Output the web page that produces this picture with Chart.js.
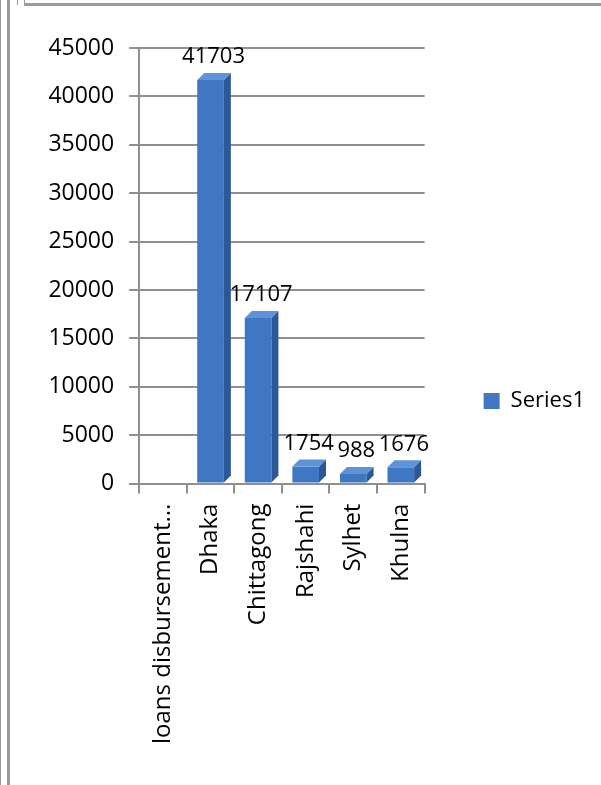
<!DOCTYPE html>
<html lang="en">
<head>
    <title>Loans disbursement</title>
    <meta charset="UTF-8">
    <style>
        body {
            margin: 0;
            background: #fff;
            font-family: "Open Sans", sans-serif;
        }
        #page {
            position: relative;
            width: 601px;
            height: 785px;
            overflow: hidden;
        }
        .rule {
            position: absolute;
            background: #9a9a9a;
        }
        #chart-box {
            position: absolute;
            left: 12px;
            top: 10px;
            width: 589px;
            height: 775px;
        }
    </style>
</head>
<body>
<div id="page">
    <div class="rule" style="left:0; top:0; width:1px; height:785px;"></div>
    <div class="rule" style="left:7px; top:0; width:3px; height:785px;"></div>
    <div class="rule" style="left:17px; top:0; width:1px; height:5px;"></div>
    <div class="rule" style="left:24px; top:0; width:1px; height:5px;"></div>
    <div class="rule" style="left:24px; top:3px; width:577px; height:3px;"></div>
    <div id="chart-box">
        <canvas id="bar-plot"></canvas>
    </div>
</div>
<script src="https://cdn.jsdelivr.net/npm/chart.js"></script>
<script>
    const categories = ['loans disbursement...', 'Dhaka', 'Chittagong', 'Rajshahi', 'Sylhet', 'Khulna'];
    const series1 = [null, 41703, 17107, 1754, 988, 1676];
    const yTicks = [0, 5000, 10000, 15000, 20000, 25000, 30000, 35000, 40000, 45000];

    // fake 3d look: side + top face for each bar
    const depthPlugin = {
        id: 'depth',
        afterDatasetsDraw(chart) {
            const c = chart.ctx;
            const d = 7;
            chart.getDatasetMeta(0).data.forEach((bar, i) => {
                if (series1[i] == null) return;
                const left = bar.x - bar.width / 2;
                const right = bar.x + bar.width / 2;
                c.save();
                c.fillStyle = '#2c5898';
                c.beginPath();
                c.moveTo(right, bar.y);
                c.lineTo(right + d, bar.y - d);
                c.lineTo(right + d, bar.base - d);
                c.lineTo(right, bar.base);
                c.closePath();
                c.fill();
                c.fillStyle = '#5f93d8';
                c.beginPath();
                c.moveTo(left, bar.y);
                c.lineTo(left + d, bar.y - d);
                c.lineTo(right + d, bar.y - d);
                c.lineTo(right, bar.y);
                c.closePath();
                c.fill();
                c.restore();
            });
        }
    };

    const valueLabels = {
        id: 'valueLabels',
        afterDatasetsDraw(chart) {
            const c = chart.ctx;
            c.save();
            c.font = '22px "Open Sans"';
            c.fillStyle = '#000';
            c.textAlign = 'center';
            c.textBaseline = 'bottom';
            chart.getDatasetMeta(0).data.forEach((bar, i) => {
                if (series1[i] == null) return;
                c.fillText(String(series1[i]), bar.x + 3, bar.y - 12);
            });
            c.restore();
        }
    };

    function drawChart() {
        const ctx = document.getElementById('bar-plot').getContext('2d');
        return new Chart(ctx, {
            type: 'bar',
            data: {
                labels: categories,
                datasets: [{
                    label: 'Series1',
                    data: series1,
                    backgroundColor: '#4077c2',
                    barPercentage: 0.56,
                    categoryPercentage: 1
                }]
            },
            options: {
                responsive: true,
                maintainAspectRatio: false,
                animation: false,
                layout: {
                    padding: { left: 36, right: 6, top: 38, bottom: 31 }
                },
                plugins: {
                    legend: {
                        position: 'right',
                        maxWidth: 200,
                        labels: {
                            boxWidth: 16,
                            boxHeight: 16,
                            color: '#000',
                            padding: 10,
                            font: { family: 'Open Sans', size: 22 }
                        }
                    },
                    tooltip: { enabled: false }
                },
                scales: {
                    x: {
                        grid: {
                            display: true,
                            drawOnChartArea: false,
                            color: '#8f8f8f',
                            lineWidth: 2,
                            tickLength: 10
                        },
                        border: { color: '#8f8f8f', width: 2 },
                        ticks: {
                            minRotation: 90,
                            maxRotation: 90,
                            color: '#000',
                            padding: 10,
                            font: { family: 'Open Sans', size: 24 }
                        }
                    },
                    y: {
                        min: 0,
                        max: 45000,
                        afterBuildTicks(axis) {
                            axis.ticks = yTicks.map(v => ({ value: v }));
                        },
                        grid: {
                            color: '#8f8f8f',
                            lineWidth: 2,
                            tickLength: 10
                        },
                        border: { color: '#8f8f8f', width: 2 },
                        ticks: {
                            color: '#000',
                            padding: 15,
                            font: { family: 'Open Sans', size: 23 },
                            callback: v => String(v)
                        }
                    },
                    // empty axis, only keeps a gap between plot and legend
                    gap: {
                        type: 'linear',
                        position: 'right',
                        display: true,
                        grid: { display: false },
                        border: { display: false },
                        ticks: { display: false },
                        afterFit(axis) {
                            axis.width = 49;
                        }
                    }
                }
            },
            plugins: [depthPlugin, valueLabels]
        });
    }

    let bar_plot;
    Promise.all([
        document.fonts.load('22px "Open Sans"'),
        document.fonts.load('24px "Open Sans"')
    ]).then(() => { bar_plot = drawChart(); }, () => { bar_plot = drawChart(); });
</script>
</body>
</html>
